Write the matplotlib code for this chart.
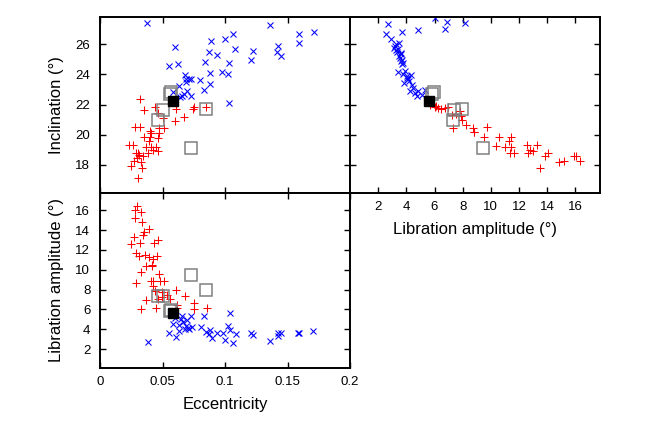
import matplotlib
matplotlib.use("Agg")
import matplotlib.pyplot as plt
from matplotlib.ticker import FixedLocator, NullFormatter

plt.rcParams['font.family'] = ['Liberation Sans', 'DejaVu Sans']

# ---------------- data ----------------
# Top-left: eccentricity vs inclination
ei_blue_e = [0.0379, 0.136, 0.171, 0.1594, 0.1065, 0.0998, 0.089, 0.159, 0.060, 0.142,
             0.1078, 0.1226, 0.0869, 0.1414, 0.0933, 0.1447, 0.121, 0.0842, 0.1035, 0.0627,
             0.0549, 0.0882, 0.0979, 0.1022, 0.068, 0.0691, 0.0715, 0.0726, 0.0802, 0.0689,
             0.0879, 0.0629, 0.0828, 0.0699, 0.0584, 0.0675, 0.0726, 0.0637, 0.0653, 0.1035, 0.058]
ei_blue_i = [27.44, 27.27, 26.84, 26.71, 26.71, 26.36, 26.22, 26.11, 25.82, 25.91,
             25.69, 25.58, 25.47, 25.47, 25.27, 25.24, 24.93, 24.82, 24.73, 24.67,
             24.58, 24.11, 24.18, 24.0, 23.98, 23.73, 23.67, 23.67, 23.6, 23.49,
             23.38, 23.22, 22.96, 22.89, 22.84, 22.67, 22.58, 22.53, 22.6, 22.11, 22.44]
ei_red_e = [0.032, 0.0439, 0.0352, 0.0748, 0.0608, 0.085, 0.0745, 0.046, 0.05, 0.06,
            0.0675, 0.028, 0.0318, 0.0514, 0.0473, 0.0401, 0.0411, 0.0473, 0.0352, 0.0401,
            0.0465, 0.0393, 0.0231, 0.0266, 0.0411, 0.0366, 0.0447, 0.0427, 0.046, 0.0285,
            0.0304, 0.0312, 0.0344, 0.0387, 0.0293, 0.0272, 0.0326, 0.025, 0.0339, 0.0306]
ei_red_i = [22.38, 21.87, 21.62, 21.87, 21.71, 21.82, 21.71, 21.44, 21.11, 20.93,
            21.16, 20.51, 20.51, 20.47, 20.44, 20.22, 20.11, 20.11, 19.84, 19.84,
            19.78, 19.56, 19.31, 19.31, 19.22, 19.2, 19.16, 19.0, 18.89, 18.82,
            18.78, 18.67, 18.56, 18.78, 18.44, 18.29, 18.22, 17.96, 17.78, 17.11]

# Top-right: libration amplitude vs inclination
li_blue_l = [2.67, 2.53, 6.03, 6.88, 8.2, 6.78, 4.84, 3.66, 2.91, 3.47, 3.19, 3.38, 3.61,
             3.54, 3.78, 3.66, 3.43, 3.78, 4.3, 4.09, 4.18, 3.85, 4.37, 4.25, 4.84, 5.32,
             4.73, 5.08, 3.14, 3.31, 3.59, 3.71, 4.02, 3.3, 3.5, 3.9, 4.5, 3.6, 4.6, 3.25, 4.05]
li_blue_i = [27.33, 26.71, 27.73, 27.51, 27.38, 27.0, 26.93, 26.84, 26.33, 26.11, 25.89, 25.67, 25.44,
             25.11, 24.78, 24.67, 24.18, 24.0, 23.96, 23.67, 23.56, 23.44, 23.27, 22.93, 22.93, 23.0,
             22.56, 22.62, 25.78, 25.51, 25.33, 24.93, 23.78, 26.0, 25.2, 24.2, 23.1, 24.9, 22.8, 25.6, 23.9]
li_red_l = [5.67, 6.03, 6.26, 6.43, 6.74, 6.97, 7.26, 7.8, 7.85, 7.92, 7.28, 8.27, 8.74, 8.82,
            9.74, 9.52, 10.59, 11.46, 11.3, 10.4, 11.04, 11.42, 11.35, 11.63, 12.6, 13.31, 12.76,
            13.0, 12.65, 14.06, 13.83, 13.52, 14.82, 15.2, 15.91, 16.05, 16.36, 8.78, 7.55, 6.1]
li_red_i = [22.0, 21.84, 21.78, 21.73, 21.78, 21.84, 21.33, 21.56, 21.22, 20.96, 20.44, 20.67, 20.44, 20.16,
            20.51, 19.82, 19.84, 19.82, 19.56, 19.27, 19.22, 19.16, 18.82, 18.82, 19.29, 19.33, 19.0,
            18.89, 18.76, 18.78, 18.56, 17.78, 18.22, 18.29, 18.56, 18.6, 18.29, 20.2, 21.4, 21.9]

# Bottom-left: eccentricity vs libration amplitude
el_red_e = [0.0297, 0.0278, 0.0324, 0.0278, 0.0332, 0.0393, 0.0353, 0.0345, 0.0273, 0.0465,
            0.0433, 0.0244, 0.0318, 0.0286, 0.0313, 0.0358, 0.0393, 0.0425, 0.0452, 0.0412,
            0.0369, 0.0412, 0.0326, 0.0473, 0.0404, 0.042, 0.0478, 0.0513, 0.0286, 0.0425,
            0.0438, 0.0604, 0.0678, 0.0492, 0.0465, 0.0532, 0.0558, 0.0364, 0.075, 0.0612,
            0.0326, 0.0444, 0.0753, 0.0852, 0.0612, 0.0492]
el_red_l = [16.4, 16.07, 15.86, 15.23, 14.82, 14.08, 13.82, 13.55, 13.31, 12.98,
            12.74, 12.64, 12.71, 11.7, 11.4, 11.47, 11.3, 11.06, 11.4, 10.53,
            10.36, 10.36, 9.79, 9.55, 8.88, 8.88, 8.88, 8.88, 8.68, 8.34,
            7.87, 8.01, 7.34, 7.77, 7.1, 7.44, 7.1, 6.93, 6.6, 6.43,
            6.03, 6.1, 6.03, 6.16, 6.1, 7.27]
el_blue_e = [0.0385, 0.0553, 0.0606, 0.0585, 0.0633, 0.063, 0.0652, 0.0665, 0.0692, 0.0726,
             0.0686, 0.07, 0.0713, 0.0732, 0.0678, 0.0804, 0.0833, 0.0846, 0.0878, 0.087,
             0.0892, 0.0937, 0.098, 0.0998, 0.102, 0.1038, 0.1036, 0.1065, 0.1084, 0.1206,
             0.1225, 0.1358, 0.142, 0.142, 0.1444, 0.1585, 0.159, 0.1705, 0.0598, 0.0646]
el_blue_l = [2.67, 3.64, 3.18, 4.58, 4.42, 3.81, 5.32, 4.75, 4.92, 5.32,
             4.32, 4.15, 3.98, 4.18, 3.98, 4.18, 5.32, 3.75, 3.91, 3.51,
             3.07, 3.64, 3.64, 2.91, 4.35, 3.91, 5.66, 2.64, 3.48, 3.64,
             3.41, 2.81, 3.64, 3.34, 3.64, 3.64, 3.58, 3.85, 5.09, 4.99]

# Highlighted objects (open squares) and the reference object (filled square)
sq_e = [0.0565, 0.0556, 0.0506, 0.0463, 0.0847, 0.0729]
sq_i = [22.82, 22.67, 21.62, 20.96, 21.73, 19.13]
sq_l = [5.95, 5.80, 7.35, 7.33, 7.92, 9.45]
ref_e = [0.0586]
ref_i = [22.24]
ref_l = [5.6]

ecc_ticks = [0, 0.05, 0.1, 0.15, 0.2]
ecc_ticklabels = ['0', '0.05', '0.1', '0.15', '0.2']
inc_ticks = [18, 20, 22, 24, 26]
lib_ticks = [2, 4, 6, 8, 10, 12, 14, 16]

# ---------------- figure ----------------
W, H = 649, 438
fig = plt.figure(figsize=(W / 100, H / 100), dpi=100)

x0, x1, x2 = 100 / W, 350 / W, 600 / W
yt, ym, yb = 1 - 17.3 / H, 1 - 192.5 / H, 1 - 367.7 / H
ax_ei = fig.add_axes([x0, ym, x1 - x0, yt - ym])
ax_li = fig.add_axes([x1, ym, x2 - x1, yt - ym])
ax_el = fig.add_axes([x0, yb, x1 - x0, ym - yb])

red = '#ff0000'
blue = '#0000ff'
sq_col = '#808080'
ms_cross = 5.0
lw_cross = 0.75

def draw(ax, bx, by, rx, ry, sx, sy, kx, ky):
    ax.plot(bx, by, 'x', color=blue, ms=ms_cross, mew=lw_cross, ls='none')
    ax.plot(rx, ry, '+', color=red, ms=ms_cross + 1, mew=lw_cross, ls='none')
    ax.plot(sx, sy, 's', mfc='none', mec=sq_col, ms=8, mew=1.1, ls='none')
    ax.plot(kx, ky, 's', color='black', ms=7.5, ls='none')

draw(ax_ei, ei_blue_e, ei_blue_i, ei_red_e, ei_red_i, sq_e, sq_i, ref_e, ref_i)
draw(ax_li, li_blue_l, li_blue_i, li_red_l, li_red_i, sq_l, sq_i, ref_l, ref_i)
draw(ax_el, el_blue_e, el_blue_l, el_red_e, el_red_l, sq_e, sq_l, ref_e, ref_l)

inc_lim = (16.17, 27.79)
ax_ei.set_xlim(0, 0.2)
ax_ei.set_ylim(*inc_lim)
ax_li.set_xlim(0, 17.75)
ax_li.set_ylim(*inc_lim)
ax_el.set_xlim(0, 0.2)
ax_el.set_ylim(0.12, 17.8)

for ax in (ax_ei, ax_el):
    ax.xaxis.set_major_locator(FixedLocator(ecc_ticks))
for ax in (ax_ei, ax_li):
    ax.yaxis.set_major_locator(FixedLocator(inc_ticks))
ax_li.xaxis.set_major_locator(FixedLocator(lib_ticks))
ax_el.yaxis.set_major_locator(FixedLocator(lib_ticks))

ax_el.set_xticklabels(ecc_ticklabels)
ax_ei.xaxis.set_major_formatter(NullFormatter())
ax_li.yaxis.set_major_formatter(NullFormatter())

for ax in (ax_ei, ax_li, ax_el):
    ax.tick_params(direction='in', top=True, right=True, length=4, width=1.0,
                   labelsize=9.5, color='black')
    ax.tick_params(axis='x', pad=6)
    ax.tick_params(axis='y', pad=7)
    for s in ax.spines.values():
        s.set_linewidth(1.4)
        s.set_color('black')

lab_fs = 12
ax_ei.set_ylabel('Inclination (°)', fontsize=lab_fs)
ax_ei.yaxis.set_label_coords(-0.145, 0.5)
ax_el.set_ylabel('Libration amplitude (°)', fontsize=lab_fs)
ax_el.yaxis.set_label_coords(-0.145, 0.5)
ax_el.set_xlabel('Eccentricity', fontsize=lab_fs)
ax_el.xaxis.set_label_coords(0.5, -0.165)
ax_li.set_xlabel('Libration amplitude (°)', fontsize=lab_fs)
ax_li.xaxis.set_label_coords(0.5, -0.168)

fig.savefig('out.png', dpi=100)
